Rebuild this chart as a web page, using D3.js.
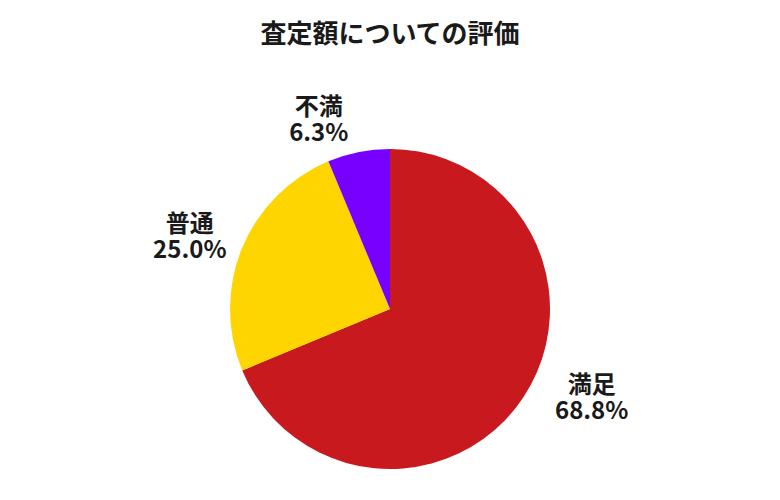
<!DOCTYPE html>
<html>
<head>
<meta charset="utf-8">
<script src="https://cdn.jsdelivr.net/npm/d3@7"></script>
<style>
  html, body { margin: 0; padding: 0; background: #ffffff; }
  svg { display: block; }
  text { font-family: "Noto Sans CJK JP", "Noto Sans", sans-serif; font-weight: bold; fill: #1a1a1a; }
</style>
</head>
<body>
<svg id="chart" width="780" height="500"></svg>
<script>
// ---- data ----
const categories = ["満足", "普通", "不満"];
const values = [68.8, 25.0, 6.3];
const colors = ["#C8191E", "#FFD500", "#7700FF"];
const title = "査定額についての評価";

// ---- layout ----
const width = 780, height = 500;
const cx = 390, cy = 309, radius = 160;
const labelRadius = 210;
const labelNudges = [[27, -33], [-6, 3], [-30, 12]];

const svg = d3.select("#chart");

svg.append("text")
  .attr("x", width / 2)
  .attr("y", 43)
  .attr("text-anchor", "middle")
  .style("font-size", "26px")
  .text(title);

const data = categories.map((c, i) => ({ name: c, value: values[i], color: colors[i] }));

const pie = d3.pie().sort(null).value(d => d.value);
const arcs = pie(data);
const arc = d3.arc().innerRadius(0).outerRadius(radius);
const labelArc = d3.arc().innerRadius(labelRadius).outerRadius(labelRadius);

const g = svg.append("g").attr("transform", `translate(${cx},${cy})`);

g.selectAll("path")
  .data(arcs)
  .join("path")
  .attr("d", arc)
  .attr("fill", d => d.data.color);

const labels = g.selectAll("g.label")
  .data(arcs)
  .join("g")
  .attr("class", "label")
  .attr("transform", (d, i) => {
    const [x, y] = labelArc.centroid(d);
    return `translate(${x + labelNudges[i][0]},${y + labelNudges[i][1]})`;
  });

labels.append("text")
  .attr("text-anchor", "middle")
  .attr("y", 0)
  .style("font-size", "24px")
  .text(d => d.data.name);

labels.append("text")
  .attr("text-anchor", "middle")
  .attr("y", 26)
  .style("font-size", "24px")
  .text(d => d.data.value.toFixed(1) + "%");
</script>
</body>
</html>
